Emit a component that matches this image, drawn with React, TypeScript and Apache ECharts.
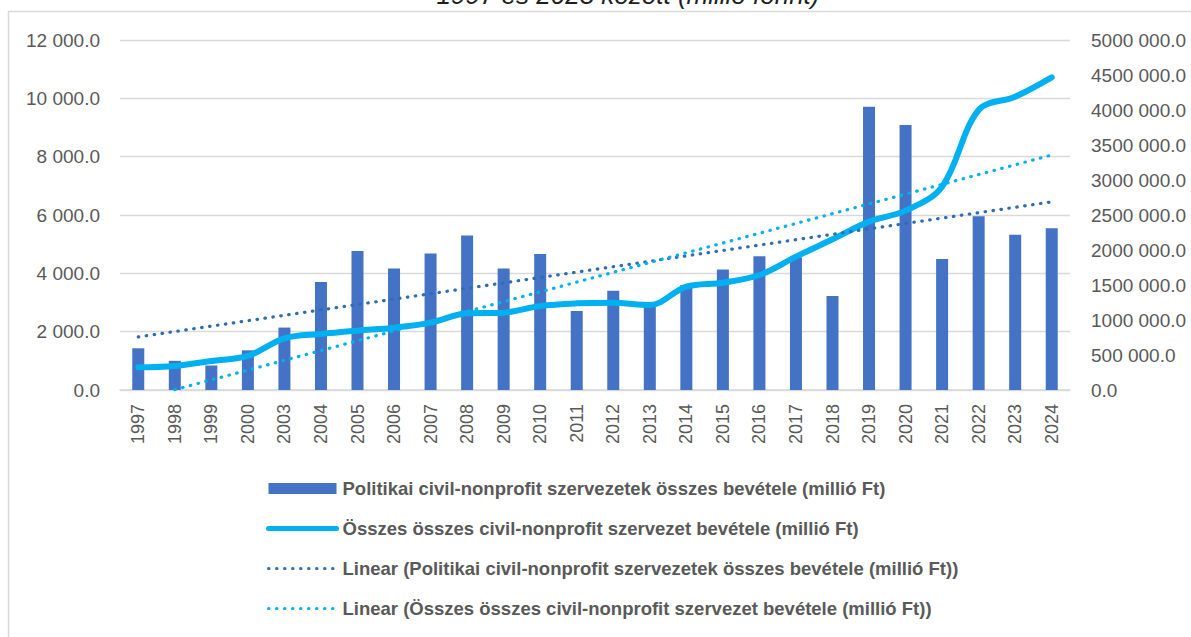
import React, { useEffect, useRef } from "react";
import * as echarts from "echarts";

const years = ["1997","1998","1999","2000","2003","2004","2005","2006","2007","2008","2009","2010","2011","2012","2013","2014","2015","2016","2017","2018","2019","2020","2021","2022","2023","2024"];
const politikaiValues = [1430, 1000, 840, 1360, 2140, 3700, 4770, 4170, 4680, 5300, 4170, 4660, 2710, 3400, 2950, 3600, 4130, 4590, 4550, 3220, 9710, 9090, 4490, 5960, 5320, 5550];
const osszesValues = [324000, 343000, 414000, 486000, 738000, 800000, 848000, 890000, 962000, 1095000, 1105000, 1200000, 1238000, 1247000, 1214000, 1476000, 1533000, 1643000, 1905000, 2153000, 2405000, 2562000, 2905000, 4000000, 4190000, 4467000];
const trendPolitikaiYears = ["1997", "2024"];
const trendPolitikaiValues = [1820, 6450];
const trendOsszesYears = ["1998", "2024"];
const trendOsszesValues = [5000, 3357000];
const leftTicks = { min: 0, max: 12000, interval: 2000 };
const rightTicks = { min: 0, max: 5000000, interval: 500000 };

const nameBar = "Politikai civil-nonprofit szervezetek összes bevétele (millió Ft)";
const nameLine = "Összes összes civil-nonprofit szervezet bevétele (millió Ft)";
const nameTrend1 = "Linear (Politikai civil-nonprofit szervezetek összes bevétele (millió Ft))";
const nameTrend2 = "Linear (Összes összes civil-nonprofit szervezet bevétele (millió Ft))";
const titleText = "1997 és 2023 között (millió forint)";

const FONT = "Liberation Sans, Arial, sans-serif";

function fmt(v: number): string {
  const whole = Math.round(v);
  if (whole < 1000) return whole.toFixed(1);
  const hi = Math.floor(whole / 1000);
  const lo = String(whole % 1000).padStart(3, "0");
  return hi + " " + lo + ".0";
}

export default function App() {
  const ref = useRef<HTMLDivElement>(null);
  useEffect(() => {
    if (!ref.current) return;
    const chart = echarts.init(ref.current, undefined, { renderer: "svg" });
    const dotted = (color: string) => ({ color, width: 3.2, type: [0.5, 7.5], cap: "round" });
    chart.setOption({
      animation: false,
      backgroundColor: "#ffffff",
      graphic: [
        {
          type: "rect",
          shape: { x: 8.5, y: 11.5, width: 1300, height: 800 },
          style: { fill: "none", stroke: "#d9d9d9", lineWidth: 1.5 },
          silent: true,
        },
        {
          type: "text",
          x: 628,
          y: -5,
          style: {
            text: titleText,
            fontSize: 26,
            fontStyle: "italic",
            fontFamily: FONT,
            fill: "#1f1f1f",
            align: "center",
            verticalAlign: "middle",
          },
        },
      ],
      grid: { left: 120, right: 121, top: 40, bottom: 247, containLabel: false },
      legend: {
        orient: "vertical",
        left: 261,
        top: 474,
        itemWidth: 68,
        itemHeight: 11,
        itemGap: 21,
        textStyle: { fontFamily: FONT, fontWeight: "bold", fontSize: 18.5, color: "#595959", padding: [0, 0, 0, 1] },
        data: [
          { name: nameBar, icon: "rect" },
          { name: nameLine, itemStyle: { opacity: 0 }, lineStyle: { width: 5 } },
          { name: nameTrend1, itemStyle: { opacity: 0 }, lineStyle: { width: 3 } },
          { name: nameTrend2, itemStyle: { opacity: 0 }, lineStyle: { width: 3 } },
        ],
      },
      xAxis: {
        type: "category",
        data: years,
        axisTick: { show: false },
        axisLine: { lineStyle: { color: "#d9d9d9", width: 1.5 } },
        axisLabel: { rotate: 90, interval: 0, margin: 14, color: "#595959", fontSize: 18, fontFamily: FONT },
      },
      yAxis: [
        {
          type: "value",
          min: leftTicks.min,
          max: leftTicks.max,
          interval: leftTicks.interval,
          axisLine: { show: false },
          axisTick: { show: false },
          splitLine: { lineStyle: { color: "#d9d9d9", width: 1.3 } },
          axisLabel: { margin: 20, color: "#595959", fontSize: 19, fontFamily: FONT, formatter: (v: number) => fmt(v) },
        },
        {
          type: "value",
          min: rightTicks.min,
          max: rightTicks.max,
          interval: rightTicks.interval,
          axisLine: { show: false },
          axisTick: { show: false },
          splitLine: { show: false },
          axisLabel: { margin: 21, color: "#595959", fontSize: 19, fontFamily: FONT, formatter: (v: number) => fmt(v) },
        },
      ],
      series: [
        {
          name: nameBar,
          type: "bar",
          data: politikaiValues,
          yAxisIndex: 0,
          barWidth: 12,
          itemStyle: { color: "#4472C4" },
        },
        {
          name: nameLine,
          type: "line",
          data: osszesValues,
          yAxisIndex: 1,
          smooth: 0.35,
          symbol: "none",
          lineStyle: { color: "#00B0F0", width: 6, cap: "round" },
          itemStyle: { color: "#00B0F0" },
        },
        {
          name: nameTrend1,
          type: "line",
          yAxisIndex: 0,
          data: trendPolitikaiYears.map((y, i) => [y, trendPolitikaiValues[i]]),
          symbol: "none",
          lineStyle: dotted("#2E6DB4"),
          itemStyle: { color: "#2E6DB4" },
        },
        {
          name: nameTrend2,
          type: "line",
          yAxisIndex: 1,
          data: trendOsszesYears.map((y, i) => [y, trendOsszesValues[i]]),
          symbol: "none",
          lineStyle: dotted("#00B0F0"),
          itemStyle: { color: "#00B0F0" },
        },
      ],
    });
    return () => chart.dispose();
  }, []);
  return (
    <div
      ref={ref}
      style={{ position: "absolute", left: 0, top: 0, width: 1191, height: 637 }}
    />
  );
}
